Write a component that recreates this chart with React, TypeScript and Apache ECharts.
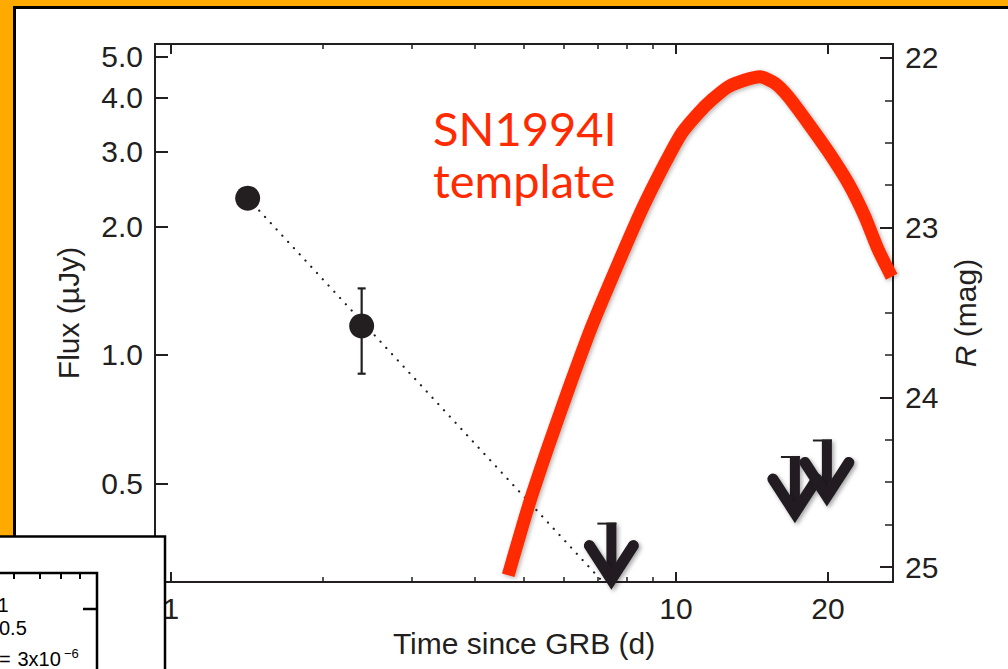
import React, { useEffect, useRef } from "react";
import * as echarts from "echarts";

const ink = "#231f20";
const snRed = "#ff2a00";
const font = "'Liberation Sans', Arial, Helvetica, sans-serif";

// Afterglow detections: time since GRB (days) and flux (µJy)
const obsTime = [1.419, 2.386];
const obsFlux = [2.33, 1.17];
const obsFluxLow = [null, 0.904];
const obsFluxHigh = [null, 1.432];

// Power-law decay through the detections
const decayTime = [1.419, 7.17];
const decayFlux = [2.33, 0.294];

// Upper limits (flux level of each limit)
const limitTime = [7.45, 17.2, 19.9];
const limitFlux = [0.405, 0.58, 0.634];

// SN1994I light-curve template
const snTime = [4.655, 5.099, 5.586, 6.118, 6.809, 7.688, 8.553, 9.511, 10.26, 11.07, 11.77, 12.7, 13.7, 14.67, 15.7, 16.69, 18.28, 20.03, 21.94, 23.67, 25.16, 26.74];
const snFlux = [0.305, 0.441, 0.61, 0.828, 1.165, 1.64, 2.186, 2.811, 3.305, 3.681, 3.956, 4.249, 4.406, 4.485, 4.329, 4.027, 3.488, 2.993, 2.524, 2.108, 1.762, 1.525];

// Axis ranges and ticks
const timeRange = [0.93, 26.9];
const fluxRange = [0.294, 5.35];
const magRange = [21.918, 25.088];
const timeMajorTicks = [1, 10, 20];
const timeMinorTicks = [2, 3, 4, 5, 6, 7, 8, 9];
const timeLabels = [1, 10, 20];
const fluxTicks = [0.5, 1, 2, 3, 4, 5];
const magMajorTicks = [22, 23, 24, 25];
const magMinorTicks = [22.25, 22.5, 22.75, 23.25, 23.5, 23.75, 24.25, 24.5, 24.75];

const lg = (v: number) => Math.log10(v);

export default function App() {
  const ref = useRef<HTMLDivElement>(null);

  useEffect(() => {
    const chart = echarts.init(ref.current!, null, { renderer: "svg" });

    const axisLine = { show: true, onZero: false, lineStyle: { color: ink, width: 2 } };
    const noSplit = { show: false };
    const labelText = { color: ink, fontSize: 30, fontFamily: font };

    const timeAxis = (position: string, ticks: number[], len: number, width: number, label: any, extra: any = {}) => ({
      type: "value",
      position,
      min: lg(timeRange[0]),
      max: lg(timeRange[1]),
      axisLine,
      splitLine: noSplit,
      axisTick: { show: true, inside: true, length: len, customValues: ticks.map(lg), lineStyle: { color: ink, width } },
      axisLabel: label,
      ...extra,
    });

    const magAxis = (ticks: number[], len: number, width: number, label: any, extra: any = {}) => ({
      type: "value",
      position: "right",
      inverse: true,
      min: magRange[0],
      max: magRange[1],
      axisLine,
      splitLine: noSplit,
      axisTick: { show: true, inside: true, length: len, customValues: ticks, lineStyle: { color: ink, width } },
      axisLabel: label,
      ...extra,
    });

    const snData = snTime.map((t, i) => [lg(t), lg(snFlux[i])]);
    const decayData = decayTime.map((t, i) => [lg(t), lg(decayFlux[i])]);
    const pointData = obsTime.map((t, i) => [lg(t), lg(obsFlux[i])]);
    const errData = obsTime
      .map((t, i) =>
        obsFluxLow[i] != null && obsFluxHigh[i] != null
          ? [lg(t), lg(obsFluxLow[i] as number), lg(obsFluxHigh[i] as number)]
          : null
      )
      .filter((d) => d !== null);
    const limitData = limitTime.map((t, i) => [lg(t), lg(limitFlux[i])]);

    const arrowShadow = { shadowColor: "rgba(0,0,0,0.35)", shadowBlur: 4, shadowOffsetX: 2, shadowOffsetY: 2 };

    chart.setOption({
      animation: false,
      backgroundColor: "#ffaa00",
      grid: { left: 155, right: 115, top: 44, bottom: 87, containLabel: false, outerBoundsMode: "none" },
      xAxis: [
        timeAxis(
          "bottom",
          timeMajorTicks,
          10,
          2,
          {
            show: true,
            customValues: timeLabels.map(lg),
            margin: 11,
            formatter: (v: number) => String(Math.round(Math.pow(10, v))),
            ...labelText,
          },
          {
            name: "Time since GRB (d)",
            nameLocation: "middle",
            nameGap: 46,
            nameTextStyle: { ...labelText },
          }
        ),
        timeAxis("bottom", timeMinorTicks, 5, 1.5, { show: false }),
        timeAxis("top", timeMajorTicks, 10, 2, { show: false }),
        timeAxis("top", timeMinorTicks, 5, 1.5, { show: false }),
      ],
      yAxis: [
        {
          type: "value",
          position: "left",
          min: lg(fluxRange[0]),
          max: lg(fluxRange[1]),
          axisLine,
          splitLine: noSplit,
          axisTick: { show: true, inside: true, length: 13, customValues: fluxTicks.map(lg), lineStyle: { color: ink, width: 2 } },
          axisLabel: {
            show: true,
            customValues: fluxTicks.map(lg),
            margin: 12,
            formatter: (v: number) => Math.pow(10, v).toFixed(1),
            ...labelText,
          },
          name: "Flux (µJy)",
          nameLocation: "middle",
          nameGap: 72,
          nameTextStyle: { ...labelText },
        },
        magAxis(
          magMajorTicks,
          13,
          2,
          { show: true, customValues: magMajorTicks, margin: 12, formatter: (v: number) => String(Math.round(v)), ...labelText },
          {
            name: "{it|R} (mag)",
            nameLocation: "middle",
            nameGap: 57,
            nameTextStyle: { ...labelText, rich: { it: { ...labelText, fontStyle: "italic" } } },
          }
        ),
        magAxis(magMinorTicks, 8, 1.5, { show: false }),
      ],
      series: [
        {
          name: "SN1994I template",
          type: "line",
          data: snData,
          smooth: 0.2,
          showSymbol: false,
          symbol: "none",
          lineStyle: {
            color: snRed,
            width: 13,
            cap: "butt",
            join: "round",
            shadowColor: "rgba(0,0,0,0.3)",
            shadowBlur: 4,
            shadowOffsetX: 1.5,
            shadowOffsetY: 1.5,
          },
          z: 3,
        },
        {
          name: "decay",
          type: "line",
          data: decayData,
          symbol: "none",
          lineStyle: { color: ink, width: 2.2, type: [0.1, 8.4], cap: "round" },
          z: 2,
        },
        {
          name: "error",
          type: "custom",
          data: errData,
          encode: { x: 0, y: [1, 2] },
          renderItem: (params: any, api: any) => {
            const lo = api.coord([api.value(0), api.value(1)]);
            const hi = api.coord([api.value(0), api.value(2)]);
            const half = 4;
            const st = { stroke: ink, lineWidth: 2.2 };
            return {
              type: "group",
              children: [
                { type: "line", shape: { x1: lo[0], y1: lo[1], x2: hi[0], y2: hi[1] }, style: st },
                { type: "line", shape: { x1: lo[0] - half, y1: lo[1], x2: lo[0] + half, y2: lo[1] }, style: st },
                { type: "line", shape: { x1: hi[0] - half, y1: hi[1], x2: hi[0] + half, y2: hi[1] }, style: st },
              ],
            };
          },
          z: 4,
        },
        {
          name: "detections",
          type: "scatter",
          data: pointData,
          symbol: "circle",
          symbolSize: 25,
          itemStyle: { color: ink, opacity: 1 },
          z: 5,
        },
        {
          name: "upper limits",
          type: "custom",
          data: limitData,
          clip: false,
          encode: { x: 0, y: 1 },
          renderItem: (params: any, api: any) => {
            const p = api.coord([api.value(0), api.value(1)]);
            const x = p[0];
            const y = p[1];
            return {
              type: "group",
              children: [
                {
                  type: "rect",
                  shape: { x: x - 5, y: y, width: 10, height: 50 },
                  style: { fill: ink, ...arrowShadow },
                },
                { type: "line", shape: { x1: x - 14, y1: y + 1, x2: x + 5, y2: y + 1 }, style: { stroke: ink, lineWidth: 2 } },
                {
                  type: "polyline",
                  shape: { points: [[x - 22, y + 23], [x, y + 57], [x + 22, y + 23]] },
                  style: { stroke: ink, fill: null, lineWidth: 11, lineJoin: "miter", miterLimit: 10, lineCap: "round", ...arrowShadow },
                },
              ],
            };
          },
          z: 6,
        },
      ],
      graphic: [
        {
          type: "rect",
          z: -100,
          silent: true,
          shape: { x: 14.5, y: 7.5, width: 1200, height: 900 },
          style: { fill: "#ffffff", stroke: "#000000", lineWidth: 3 },
        },
        {
          type: "text",
          z: 10,
          x: 433,
          y: 128,
          style: { text: "SN1994I", fill: snRed, fontSize: 47, fontFamily: "Lato", verticalAlign: "middle", align: "left" },
        },
        {
          type: "text",
          z: 10,
          x: 433,
          y: 180,
          style: { text: "template", fill: snRed, fontSize: 47, fontFamily: "Lato", verticalAlign: "middle", align: "left" },
        },
        // neighbouring panel in the lower-left corner
        {
          type: "rect",
          z: 100,
          silent: true,
          shape: { x: -20, y: 536.5, width: 185, height: 200 },
          style: { fill: "#ffffff", stroke: "#000000", lineWidth: 2.5 },
        },
        {
          type: "polyline",
          z: 101,
          silent: true,
          shape: { points: [[-10, 573], [97, 573], [97, 700]] },
          style: { fill: null, stroke: "#000000", lineWidth: 2.5 },
        },
        ...[14, 40, 61, 80].map((tx) => ({
          type: "line",
          z: 101,
          silent: true,
          shape: { x1: tx, y1: 573, x2: tx, y2: 579 },
          style: { stroke: "#000000", lineWidth: 2 },
        })),
        {
          type: "line",
          z: 101,
          silent: true,
          shape: { x1: 83, y1: 609, x2: 97, y2: 609 },
          style: { stroke: "#000000", lineWidth: 2.5 },
        },
        {
          type: "text",
          z: 101,
          x: -2.5,
          y: 605,
          style: { text: "1", fill: "#000", fontSize: 20, fontFamily: font, verticalAlign: "middle", align: "left" },
        },
        {
          type: "text",
          z: 101,
          x: -1,
          y: 628,
          style: { text: "0.5", fill: "#000", fontSize: 20, fontFamily: font, verticalAlign: "middle", align: "left" },
        },
        {
          type: "text",
          z: 101,
          x: -1,
          y: 659,
          style: { text: "=", fill: "#000", fontSize: 20, fontFamily: font, verticalAlign: "middle", align: "left" },
        },
        {
          type: "text",
          z: 101,
          x: 17.5,
          y: 659,
          style: { text: "3x10", fill: "#000", fontSize: 20, fontFamily: font, verticalAlign: "middle", align: "left" },
        },
        {
          type: "text",
          z: 101,
          x: 64,
          y: 653,
          style: { text: "−6", fill: "#000", fontSize: 13, fontFamily: font, verticalAlign: "middle", align: "left" },
        },
      ],
    });

    return () => chart.dispose();
  }, []);

  return <div ref={ref} style={{ position: "fixed", left: 0, top: 0, width: 1008, height: 669 }} />;
}
